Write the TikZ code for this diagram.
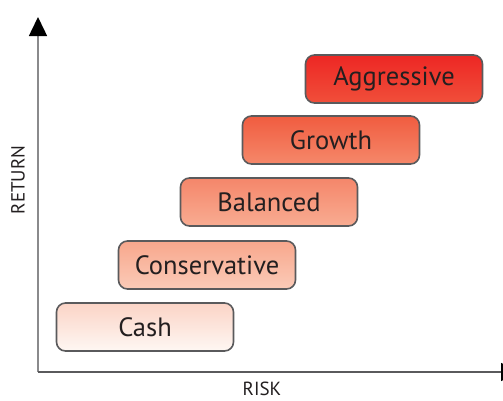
\documentclass[tikz,border=0pt]{standalone}
\usepackage{fontspec}
\setmainfont{PT Sans}
\usetikzlibrary{arrows.meta}

\definecolor{inkgray}{HTML}{231F20}
\definecolor{edgegray}{HTML}{5A5A5C}
\definecolor{axisgray}{HTML}{8A8A8C}
\definecolor{aggtop}{HTML}{ED2724}
\definecolor{aggbot}{HTML}{F04F3A}
\definecolor{grotop}{HTML}{F05C40}
\definecolor{grobot}{HTML}{F5886A}
\definecolor{baltop}{HTML}{F5866A}
\definecolor{balbot}{HTML}{F8AC92}
\definecolor{contop}{HTML}{F8A78C}
\definecolor{conbot}{HTML}{FBCBB8}
\definecolor{cashtop}{HTML}{FBD4C6}
\definecolor{cashbot}{HTML}{FEF7F3}

\tikzset{
  fundbox/.style={draw=edgegray, line width=1.6pt, rounded corners=9pt,
    minimum width=177pt, minimum height=48pt, text=inkgray,
    font=\fontsize{26.5}{28}\selectfont, inner sep=0pt},
  axislabel/.style={text=inkgray, font=\fontsize{19}{21}\selectfont, inner sep=0pt},
  axistip/.style={-{Triangle[width=18pt,length=19pt,color=black,fill=black]}}
}

\begin{document}
\begin{tikzpicture}[x=1pt, y=-1pt]
  \useasboundingbox (0,0) rectangle (503,400);
  \coordinate (o) at (38,372);
  \coordinate (ytop) at (38,17);
  \coordinate (xend) at (520,372);
  \draw[axisgray, line width=1.5pt, axistip] (o) -- (ytop);
  \draw[edgegray, line width=1.2pt, axistip] (o) -- (xend);
  \node[axislabel, rotate=90] (ret) at (18,180) {RETURN};
  \node[axislabel] (risk) at (262,389) {RISK};
  % risk ladder
  \node[fundbox, top color=cashtop, bottom color=cashbot] (cash) at (145,327) {Cash};
  \node[fundbox, top color=contop, bottom color=conbot] (cons) at (207,265) {Conservative};
  \node[fundbox, top color=baltop, bottom color=balbot] (bal) at (269,202) {Balanced};
  \node[fundbox, top color=grotop, bottom color=grobot] (grow) at (331,140) {Growth};
  \node[fundbox, top color=aggtop, bottom color=aggbot] (aggr) at (394,79) {Aggressive};
\end{tikzpicture}
\end{document}
